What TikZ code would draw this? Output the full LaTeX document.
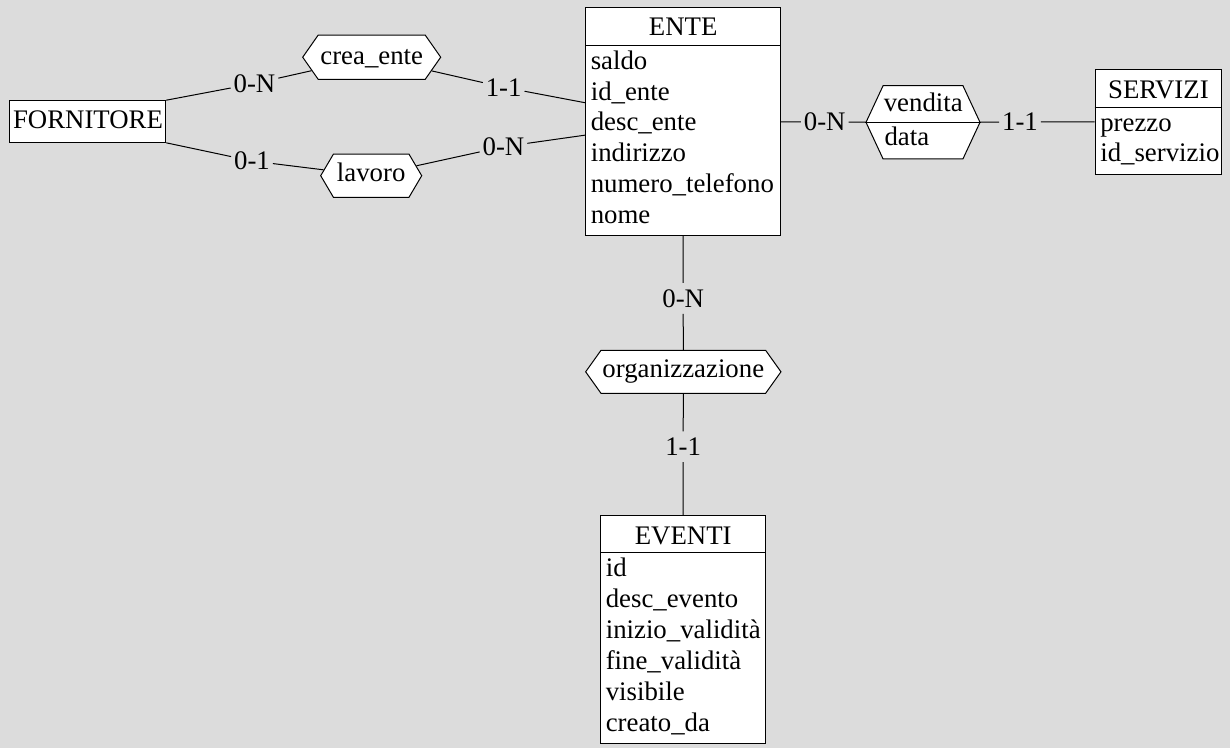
\documentclass[tikz,border=0pt]{standalone}
\usepackage{fontspec}
\setmainfont{Liberation Serif}
\usetikzlibrary{shapes.symbols}
\definecolor{bg}{RGB}{220,220,220}
\begin{document}
\begin{tikzpicture}[x=1pt,y=-1pt,
  font=\fontsize{26.8}{31}\selectfont, line width=1pt,
  box/.style={draw, fill=white, inner sep=0pt},
  rel/.style={shape=signal, signal to=west and east, draw, fill=white, inner sep=0pt},
  lbl/.style={inner xsep=2.5pt, inner ysep=6pt},
  attr/.style={anchor=base west, inner sep=0pt},
  ttl/.style={anchor=base, inner sep=0pt}]
\fill[bg] (0,0) rectangle (1230,748);
\useasboundingbox (0,0) rectangle (1230,748);

% entities
\node[box, minimum width=156.4, minimum height=41.6] (forn) at (87.5,121.5) {};
\node[ttl] (fornt) at (88,128.6) {FORNITORE};

\node[box, minimum width=195, minimum height=227.7] (ente) at (683.2,121.3) {};
\draw (ente.west |- 0,45) -- (ente.east |- 0,45);
\node[ttl] (entet) at (683.2,35) {ENTE};
\node[attr] (e1) at (590.3,69.3) {saldo};
\node[attr] (e2) at (590.3,100.1) {id\_ente};
\node[attr] (e3) at (590.3,130.9) {desc\_ente};
\node[attr] (e4) at (590.3,161.7) {indirizzo};
\node[attr] (e5) at (590.3,192.5) {numero\_telefono};
\node[attr] (e6) at (590.3,223.3) {nome};

\node[box, minimum width=126.7, minimum height=104.7] (serv) at (1158.4,121.7) {};
\draw (serv.west |- 0,107.3) -- (serv.east |- 0,107.3);
\node[ttl] (servt) at (1158.4,98.3) {SERVIZI};
\node[attr] (s1) at (1099.8,131.7) {prezzo};
\node[attr] (s2) at (1099.8,161.7) {id\_servizio};

\node[box, minimum width=165, minimum height=227.6] (ev) at (683.2,629.5) {};
\draw (ev.west |- 0,552.7) -- (ev.east |- 0,552.7);
\node[ttl] (evt) at (683.2,544) {EVENTI};
\node[attr] (v1) at (605.3,576.7) {id};
\node[attr] (v2) at (605.3,607.7) {desc\_evento};
\node[attr] (v3) at (605.3,638.7) {inizio\_validità};
\node[attr] (v4) at (605.3,669.7) {fine\_validità};
\node[attr] (v5) at (605.3,700.7) {visibile};
\node[attr] (v6) at (605.3,731.7) {creato\_da};

% relationships
\node[rel, signal pointer angle=110, minimum width=138, minimum height=44.3] (crea) at (371.7,57.2) {};
\node[ttl] (creat) at (371.7,64.3) {crea\_ente};
\node[rel, signal pointer angle=119, minimum width=101, minimum height=43.3] (lav) at (371.2,175.7) {};
\node[ttl] (lavt) at (371.2,181.7) {lavoro};
\node[rel, signal pointer angle=109, minimum width=195.3, minimum height=43] (org) at (683.3,371.8) {};
\node[ttl] (orgt) at (683.3,377.3) {organizzazione};
\node[rel, signal pointer angle=130, minimum width=114, minimum height=73.3] (vend) at (923,122.3) {};
\draw (vend.west) -- (vend.east);
\node[attr] (vt1) at (883.3,111.7) {vendita};
\node[attr] (vt2) at (884,145) {data};

% cardinality labels
\node[lbl] (l1) at (254.5,83.5) {0-N};
\node[lbl] (l2) at (503.7,87.3) {1-1};
\node[lbl] (l3) at (252,161) {0-1};
\node[lbl] (l4) at (503.5,146.7) {0-N};
\node[lbl] (l5) at (824.7,122) {0-N};
\node[lbl] (l6) at (1020,122) {1-1};
\node[lbl] (l7) at (683.2,298.3) {0-N};
\node[lbl] (l8) at (683.2,446.7) {1-1};

% connectors
\draw (forn.north east) -- (l1) -- (crea);
\draw (crea) -- (l2) -- (ente);
\draw (forn.south east) -- (l3) -- (lav);
\draw (lav) -- (l4) -- (ente);
\draw (ente) -- (l5) -- (vend);
\draw (vend) -- (l6) -- (serv);
\draw (ente) -- (l7) -- (org);
\draw (org) -- (l8) -- (ev);
\end{tikzpicture}
\end{document}
